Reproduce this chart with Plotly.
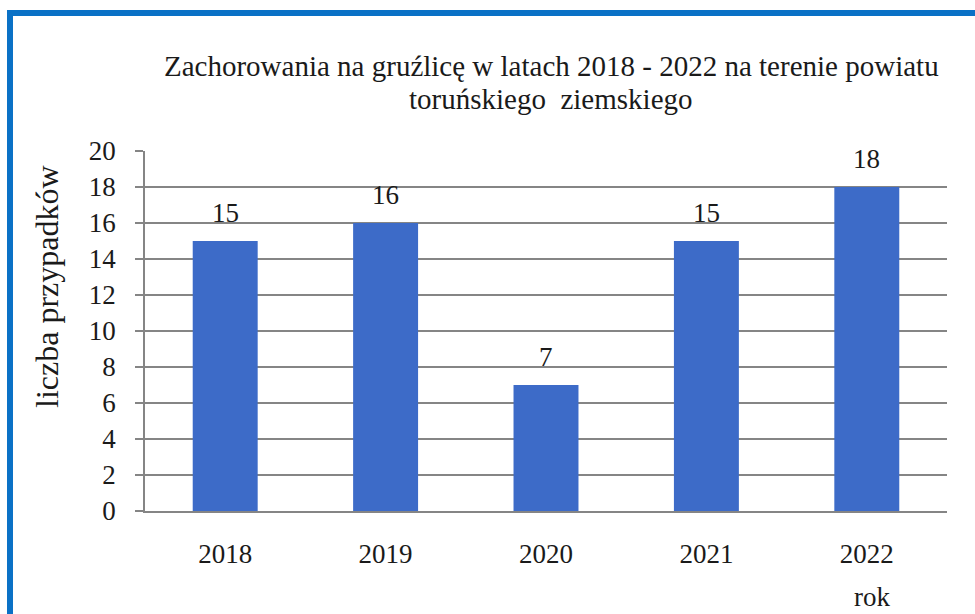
import plotly.graph_objects as go

# Tuberculosis cases per year, Toruń county
years = ["2018", "2019", "2020", "2021", "2022"]
cases = [15, 16, 7, 15, 18]

title_line1 = "Zachorowania na gruźlicę w latach 2018 - 2022 na terenie powiatu"
title_line2 = "toruńskiego  ziemskiego"
y_title = "liczba przypadków"
x_title = "rok"

W, H = 975, 614
L, R, T, B = 145, 28, 151, 103
PW, PH = W - L - R, H - T - B


def px(x):
    return (x - L) / PW


def py(y):
    return (H - B - y) / PH


FONT = "Liberation Serif, Times New Roman, serif"
INK = "#1a1a1a"
GRID = "#858585"

fig = go.Figure(
    go.Bar(
        x=years,
        y=cases,
        marker=dict(color="#3d6bc8", line=dict(width=0)),
        hoverinfo="x+y",
    )
)

# value labels above each bar (category index keeps numeric-looking names on the category axis)
annotations = []
for i, v in enumerate(cases):
    annotations.append(dict(
        x=i, y=v, xref="x", yref="y", text=str(v), showarrow=False,
        yanchor="middle", yshift=28, font=dict(family=FONT, size=27, color=INK),
    ))

annotations += [
    dict(x=px(551), y=py(66), xref="paper", yref="paper", text=title_line1,
         showarrow=False, xanchor="center", yanchor="middle",
         font=dict(family=FONT, size=29, color=INK)),
    dict(x=px(551), y=py(99), xref="paper", yref="paper", text=title_line2,
         showarrow=False, xanchor="center", yanchor="middle",
         font=dict(family=FONT, size=29, color=INK)),
    dict(x=px(47), y=py(287), xref="paper", yref="paper", text=y_title,
         showarrow=False, textangle=-90, xanchor="center", yanchor="middle",
         font=dict(family=FONT, size=32, color=INK)),
    dict(x=px(872), y=py(597), xref="paper", yref="paper", text=x_title,
         showarrow=False, xanchor="center", yanchor="middle",
         font=dict(family=FONT, size=27, color=INK)),
]

fig.update_layout(
    width=W, height=H,
    margin=dict(l=L, r=R, t=T, b=B, pad=0),
    paper_bgcolor="white", plot_bgcolor="white",
    bargap=0.595,
    showlegend=False,
    annotations=annotations,
    shapes=[dict(
        type="rect", xref="paper", yref="paper",
        x0=px(10), x1=px(990), y0=py(640), y1=py(13),
        line=dict(color="#0a71c6", width=6), fillcolor="rgba(0,0,0,0)",
        layer="above",
    )],
    xaxis=dict(
        type="category",
        range=[-0.5, len(years) - 0.5],
        showline=True, linecolor=GRID, linewidth=1.5,
        ticks="", showgrid=False,
        tickfont=dict(family=FONT, size=27, color=INK),
        ticklabelstandoff=18,
    ),
    yaxis=dict(
        range=[0, 20], dtick=2, tick0=0,
        showline=True, linecolor=GRID, linewidth=1.5,
        ticks="outside", ticklen=8, tickcolor=GRID, tickwidth=1.5,
        showgrid=True, gridcolor=GRID, gridwidth=1.5,
        zeroline=False,
        tickfont=dict(family=FONT, size=27, color=INK),
        ticklabelstandoff=14,
    ),
)

fig.write_html("out.html")
